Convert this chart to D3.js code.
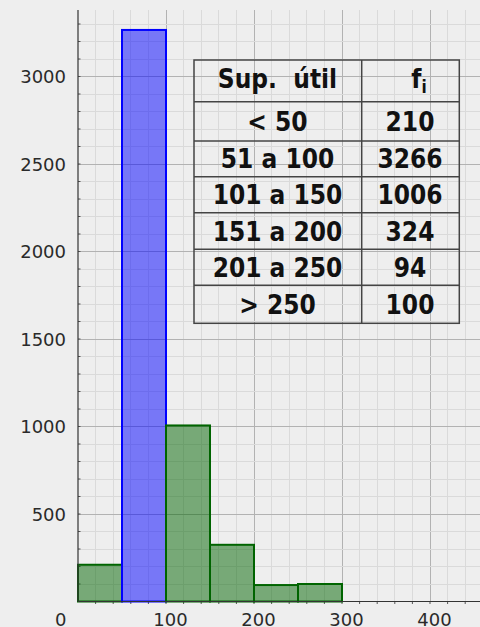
<!DOCTYPE html>
<html><head><meta charset="utf-8">
<script src="https://cdn.jsdelivr.net/npm/d3@7"></script>
<style>
html,body{margin:0;padding:0;background:#eeeeee;}
svg{display:block;}
</style></head>
<body>
<svg id="chart" width="480" height="627"></svg>
<script>
// ---- data ----
const binEdges = [0, 50, 100, 150, 200, 250, 300];
const frequencies = [210, 3266, 1006, 324, 94, 100];
const highlightIndex = 1;
const tableHeader = ["Sup.\u00a0\u00a0útil", "f"];
const tableClasses = ["< 50", "51 a 100", "101 a 150", "151 a 200", "201 a 250", "> 250"];
const xTickLabels = [0, 100, 200, 300, 400];
const yTickLabels = [500, 1000, 1500, 2000, 2500, 3000];

const svg = d3.select("#chart");
const W = 480, H = 627;

const x = d3.scaleLinear().domain([0, 100]).range([78, 166]);
const y = d3.scaleLinear().domain([0, 500]).range([601.5, 514]);
const xMax = x.invert(W), yMax = y.invert(10);

// grid
const g = svg.append("g");
d3.range(20, xMax, 20).forEach(v => {
  const major = v % 100 === 0;
  g.append("line").attr("x1", x(v)).attr("x2", x(v)).attr("y1", 10).attr("y2", y(0))
    .attr("stroke", major ? "#b2b2b2" : "#dadada").attr("stroke-width", 1).attr("shape-rendering","crispEdges");
});
d3.range(100, yMax, 100).forEach(v => {
  const major = v % 500 === 0;
  g.append("line").attr("x1", x(0)).attr("x2", W).attr("y1", y(v)).attr("y2", y(v))
    .attr("stroke", major ? "#b2b2b2" : "#dadada").attr("stroke-width", 1).attr("shape-rendering","crispEdges");
});

// minor ticks
d3.range(20, xMax, 20).forEach(v => {
  g.append("line").attr("x1", x(v)).attr("x2", x(v)).attr("y1", y(0)).attr("y2", y(0) + 2.5)
    .attr("stroke", "#555").attr("stroke-width", 1);
});
d3.range(100, yMax, 100).forEach(v => {
  g.append("line").attr("x1", x(0)).attr("x2", x(0) + 2.5).attr("y1", y(v)).attr("y2", y(v))
    .attr("stroke", "#555").attr("stroke-width", 1);
});

// bars
const bars = frequencies.map((f, i) => ({x0: binEdges[i], x1: binEdges[i + 1], f, i}));
svg.append("g").selectAll("rect").data(bars).join("rect")
  .attr("x", d => x(d.x0)).attr("width", d => x(d.x1) - x(d.x0))
  .attr("y", d => y(d.f)).attr("height", d => y(0) - y(d.f))
  .attr("fill", d => d.i === highlightIndex ? "rgba(0,0,255,0.5)" : "rgba(0,100,0,0.5)")
  .attr("stroke", d => d.i === highlightIndex ? "#0000ff" : "#006400")
  .attr("stroke-width", 2);

// axis lines
svg.append("line").attr("x1", x(0)).attr("x2", x(0)).attr("y1", 10).attr("y2", y(0))
  .attr("stroke", "#333").attr("stroke-width", 1.2);
svg.append("line").attr("x1", x(0)).attr("x2", W).attr("y1", y(0)).attr("y2", y(0))
  .attr("stroke", "#333").attr("stroke-width", 1.2);

// y axis labels
const yAxis = d3.axisLeft(y).tickValues(yTickLabels).tickSize(0).tickPadding(0).tickFormat(d3.format("d"));
const ya = svg.append("g").attr("transform", `translate(${x(0) - 12},0)`).call(yAxis);
ya.select(".domain").remove();
ya.selectAll("text").attr("font-family", "DejaVu Sans").attr("font-size", 18).attr("fill", "#2a2a2a")
  .attr("dy", "0.36em").attr("x", 0);

// x axis labels
const xAxis = d3.axisBottom(x).tickValues(xTickLabels).tickSize(0).tickPadding(0).tickFormat(d3.format("d"));
const xa = svg.append("g").attr("transform", `translate(0,${y(0)})`).call(xAxis);
xa.select(".domain").remove();
xa.selectAll("text").attr("font-family", "DejaVu Sans").attr("font-size", 18).attr("fill", "#2a2a2a")
  .attr("y", 24).attr("dy", 0)
  .attr("x", d => d === 0 ? -12 : 4)
  .attr("text-anchor", d => d === 0 ? "end" : "middle");

// table
const tLeft = 194, tDiv = 361.7, tRight = 459.3;
const rowLines = [60, 101.7, 141, 176.7, 212.7, 249.3, 285.3, 323.3];
const tg = svg.append("g");
const tfont = "'DejaVu Sans Condensed','DejaVu Sans',sans-serif";
tg.append("rect").attr("x", tLeft).attr("y", rowLines[0]).attr("width", tRight - tLeft)
  .attr("height", rowLines[rowLines.length - 1] - rowLines[0])
  .attr("fill", "none").attr("stroke", "#444").attr("stroke-width", 1.5);
rowLines.slice(1, -1).forEach(r => tg.append("line").attr("x1", tLeft).attr("x2", tRight)
  .attr("y1", r).attr("y2", r).attr("stroke", "#444").attr("stroke-width", 1.5));
tg.append("line").attr("x1", tDiv).attr("x2", tDiv).attr("y1", rowLines[0]).attr("y2", rowLines[rowLines.length - 1])
  .attr("stroke", "#444").attr("stroke-width", 1.5);

const c1 = 277.5, c2 = 410;
function cellText(txt, cx, r) {
  const cy = (rowLines[r] + rowLines[r + 1]) / 2;
  return tg.append("text").attr("x", cx).attr("y", cy + 9.5).attr("text-anchor", "middle")
    .attr("font-family", tfont).style("font-stretch", "condensed").attr("font-weight", "bold")
    .attr("font-size", 26).attr("fill", "#111").text(txt);
}
cellText(tableHeader[0], c1, 0).attr("y", 87.5);
const fh = cellText(tableHeader[1], 419, 0).attr("y", 87.5);
fh.append("tspan").attr("font-size", 17).attr("dy", 5).text("i");
tableClasses.forEach((c, i) => {
  cellText(c, c1, i + 1);
  cellText(String(frequencies[i]), c2, i + 1);
});
</script>
</body></html>
